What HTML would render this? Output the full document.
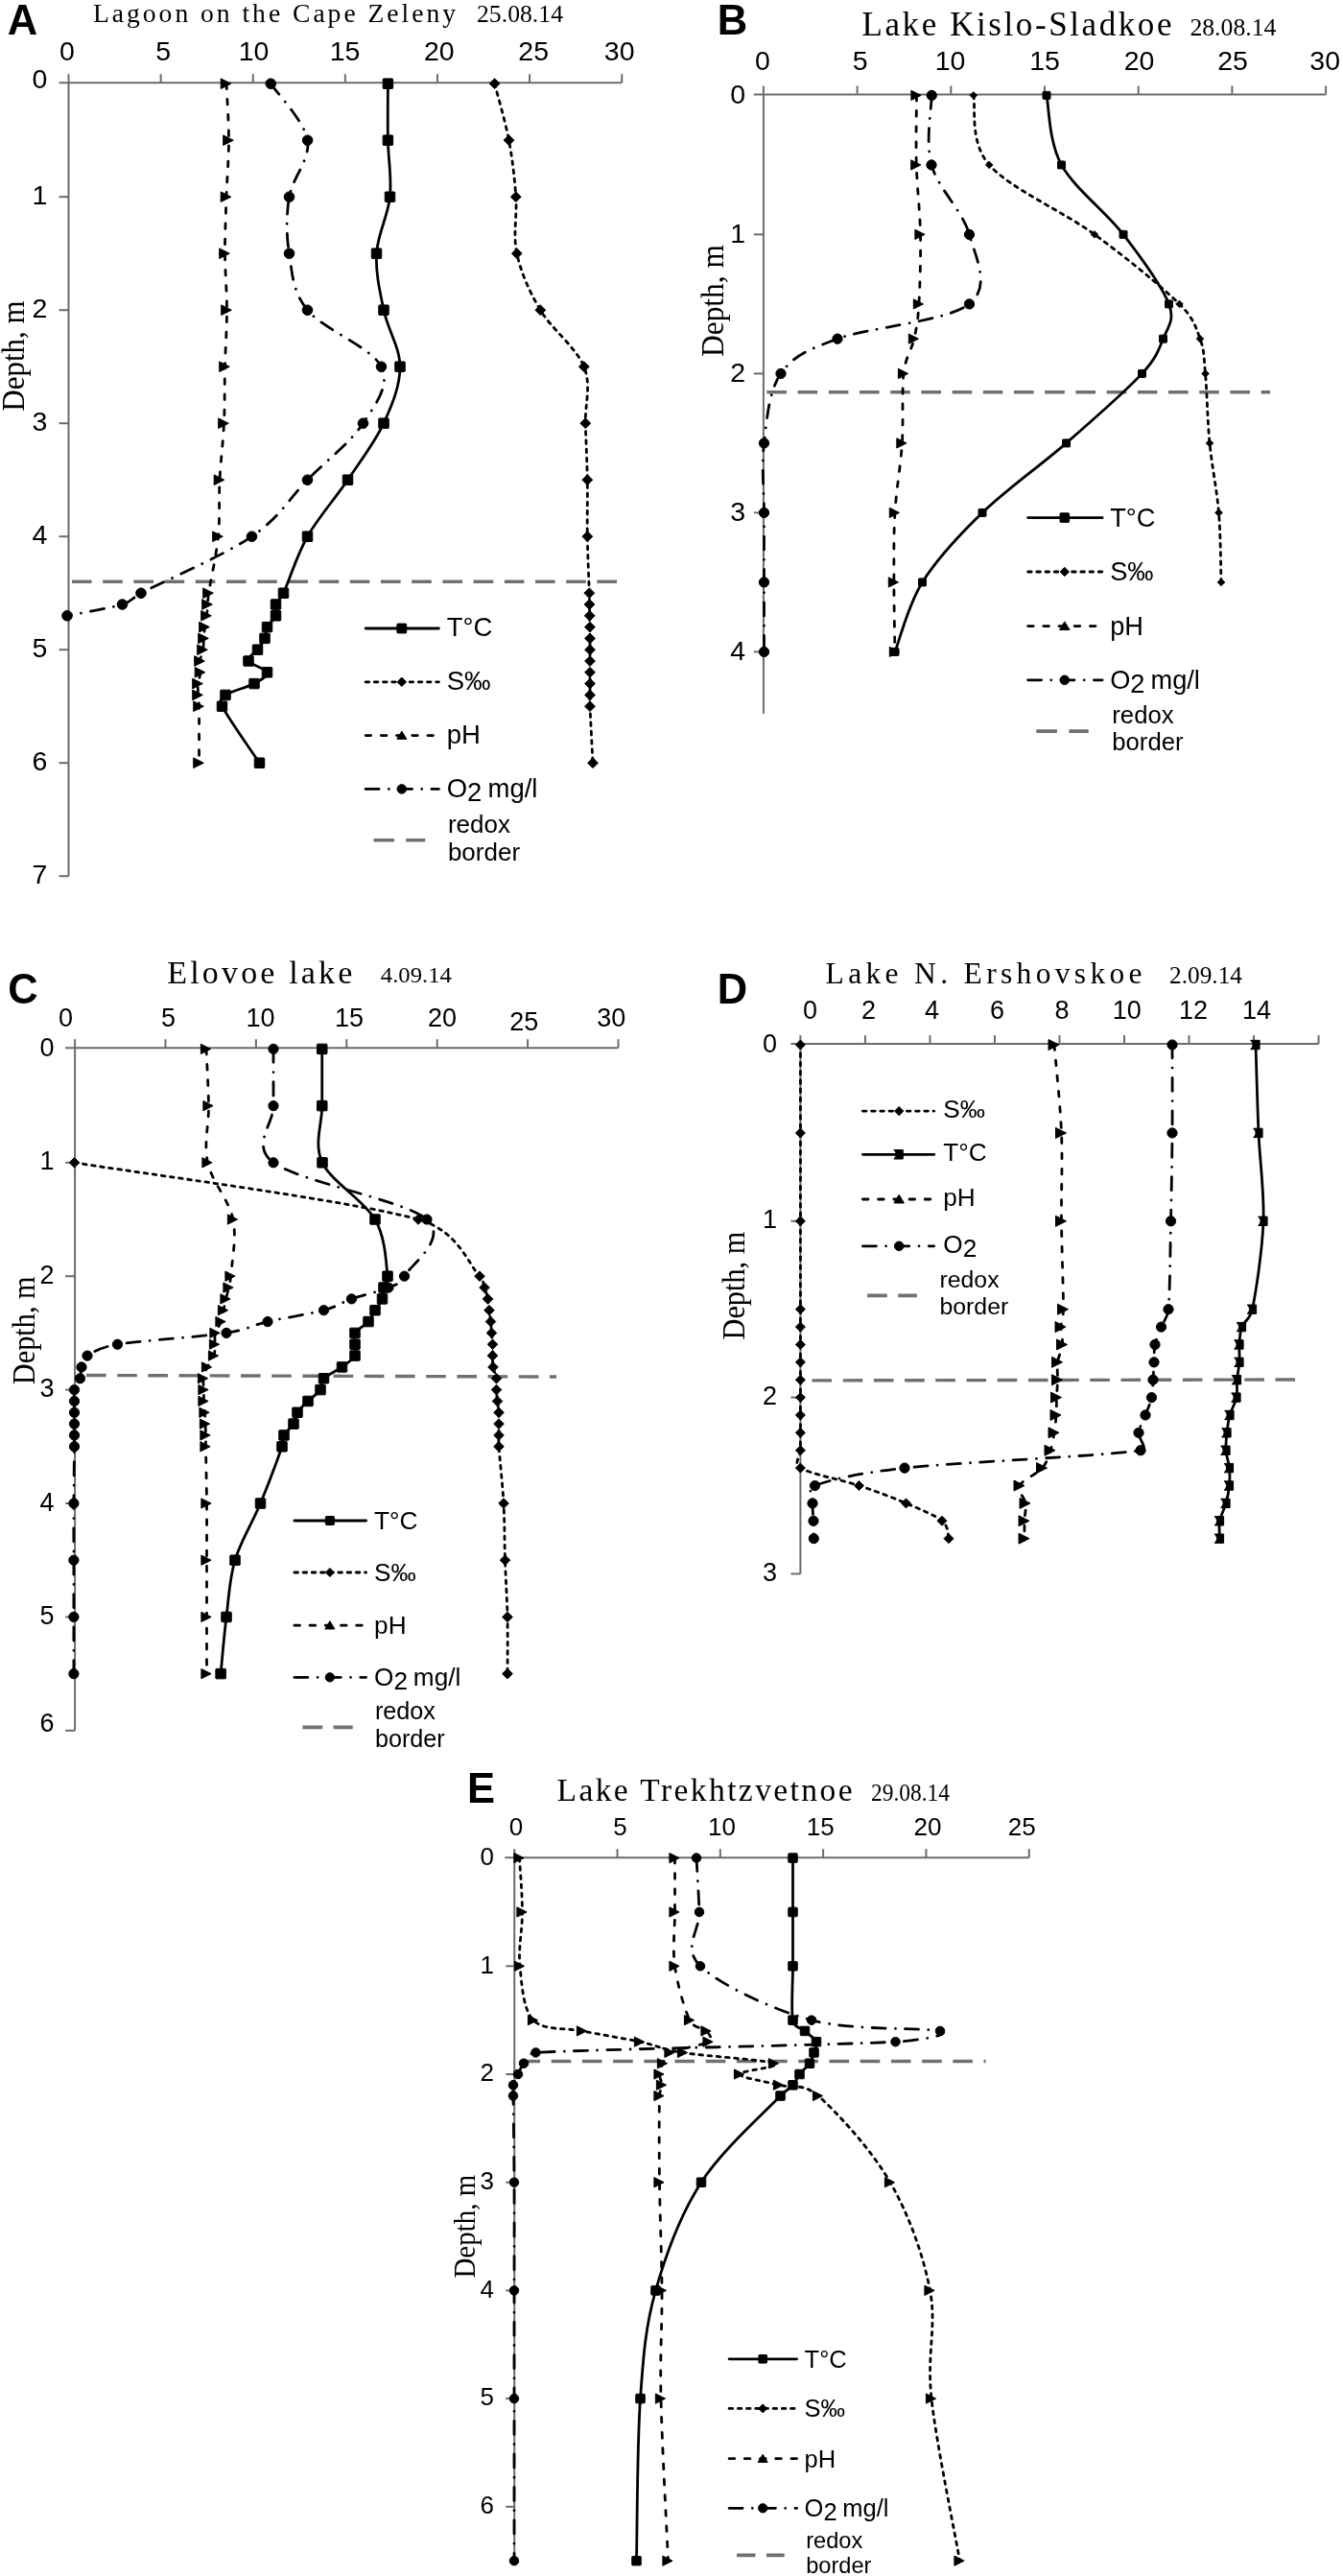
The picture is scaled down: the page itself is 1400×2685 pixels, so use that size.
<!DOCTYPE html>
<html><head><meta charset="utf-8"><style>
html,body{margin:0;padding:0;background:#fff;}
svg{display:block;filter:grayscale(1);}
</style></head><body>
<svg width="1400" height="2685" viewBox="0 0 1400 2685">
<rect width="1400" height="2685" fill="#fff"/>
<g stroke="#6b6b6b" stroke-width="2" fill="none">
<path d="M61.5,86.2H648.25"/>
<path d="M71.5,86.2V913.2"/>
<path d="M71.5,77.2V86.2"/>
<path d="M167.62,77.2V86.2"/>
<path d="M263.75,77.2V86.2"/>
<path d="M359.88,77.2V86.2"/>
<path d="M456,77.2V86.2"/>
<path d="M552.12,77.2V86.2"/>
<path d="M648.25,77.2V86.2"/>
<path d="M61.5,205.2H71.5"/>
<path d="M61.5,323.2H71.5"/>
<path d="M61.5,441.2H71.5"/>
<path d="M61.5,559.2H71.5"/>
<path d="M61.5,677.2H71.5"/>
<path d="M61.5,795.2H71.5"/>
<path d="M61.5,913.2H71.5"/>
</g>
<g font-family="Liberation Sans, sans-serif" font-size="28.5" fill="#000" text-anchor="middle">
<text x="70" y="63.4">0</text>
<text x="170.2" y="63.4">5</text>
<text x="264.5" y="63.4">10</text>
<text x="359.5" y="63.4">15</text>
<text x="457.8" y="63.4">20</text>
<text x="556.2" y="63.4">25</text>
<text x="645.7" y="63.4">30</text>
</g>
<g font-family="Liberation Sans, sans-serif" font-size="28.5" fill="#000" text-anchor="end">
<text x="49.3" y="92.32">0</text>
<text x="49.3" y="213.32">1</text>
<text x="49.3" y="331.32">2</text>
<text x="49.3" y="449.32">3</text>
<text x="49.3" y="567.32">4</text>
<text x="49.3" y="685.32">5</text>
<text x="49.3" y="803.32">6</text>
<text x="49.3" y="921.32">7</text>
</g>
<path d="M75,606.25L643,606.25" stroke="#707070" stroke-width="3.4" stroke-dasharray="20.6 11.6" fill="none"/>
<path d="M515.6,87.2 C518.08,97.03 526.8,126.53 530.5,146.2 C534.2,165.87 536.42,185.53 537.8,205.2 C539.18,224.87 534.55,244.53 538.8,264.2 C543.05,283.87 551.63,303.53 563.3,323.2 C574.97,342.87 600.97,362.53 608.8,382.2 C616.63,401.87 609.72,421.53 610.3,441.2 C610.88,460.87 611.97,480.53 612.3,500.2 C612.63,519.87 611.97,539.53 612.3,559.2 C612.63,578.87 613.93,606.4 614.3,618.2 C614.48,624.1 614.43,626.07 614.5,630 C614.57,633.93 614.63,637.87 614.7,641.8 C614.77,645.73 614.85,649.67 614.9,653.6 C614.95,657.53 614.98,661.47 615,665.4 C615.02,669.33 615,673.27 615,677.2 C615,681.13 615,685.07 615,689 C615,692.93 615,696.87 615,700.8 C615,704.73 615,708.67 615,712.6 C615,716.53 615,720.47 615,724.4 C615,728.33 614.75,730.31 615,736.2 C615.5,748 617.5,785.37 618,795.2" fill="none" stroke="#000" stroke-width="2.8" stroke-linecap="round" stroke-linejoin="round" stroke-dasharray="3.6 5.6"/>
<g fill="#000" stroke="#000" stroke-width="1.0" stroke-linejoin="round"><path d="M515.6,81.8L521,87.2L515.6,92.6L510.2,87.2Z"/><path d="M530.5,140.8L535.9,146.2L530.5,151.6L525.1,146.2Z"/><path d="M537.8,199.8L543.2,205.2L537.8,210.6L532.4,205.2Z"/><path d="M538.8,258.8L544.2,264.2L538.8,269.6L533.4,264.2Z"/><path d="M563.3,317.8L568.7,323.2L563.3,328.6L557.9,323.2Z"/><path d="M608.8,376.8L614.2,382.2L608.8,387.6L603.4,382.2Z"/><path d="M610.3,435.8L615.7,441.2L610.3,446.6L604.9,441.2Z"/><path d="M612.3,494.8L617.7,500.2L612.3,505.6L606.9,500.2Z"/><path d="M612.3,553.8L617.7,559.2L612.3,564.6L606.9,559.2Z"/><path d="M614.3,612.8L619.7,618.2L614.3,623.6L608.9,618.2Z"/><path d="M614.5,624.6L619.9,630L614.5,635.4L609.1,630Z"/><path d="M614.7,636.4L620.1,641.8L614.7,647.2L609.3,641.8Z"/><path d="M614.9,648.2L620.3,653.6L614.9,659L609.5,653.6Z"/><path d="M615,660L620.4,665.4L615,670.8L609.6,665.4Z"/><path d="M615,671.8L620.4,677.2L615,682.6L609.6,677.2Z"/><path d="M615,683.6L620.4,689L615,694.4L609.6,689Z"/><path d="M615,695.4L620.4,700.8L615,706.2L609.6,700.8Z"/><path d="M615,707.2L620.4,712.6L615,718L609.6,712.6Z"/><path d="M615,719L620.4,724.4L615,729.8L609.6,724.4Z"/><path d="M615,730.8L620.4,736.2L615,741.6L609.6,736.2Z"/><path d="M618,789.8L623.4,795.2L618,800.6L612.6,795.2Z"/></g>
<path d="M236,87.2 C236.42,97.03 238.5,126.53 238.5,146.2 C238.5,165.87 236.67,185.53 236,205.2 C235.33,224.87 234.42,244.53 234.5,264.2 C234.58,283.87 236.5,303.53 236.5,323.2 C236.5,342.87 235,362.53 234.5,382.2 C234,401.87 234.42,421.53 233.5,441.2 C232.58,460.87 230,480.53 229,500.2 C228,519.87 229.42,539.53 227.5,559.2 C225.58,578.87 219.33,606.4 217.5,618.2 C216.59,624.05 216.83,626.07 216.5,630 C216.17,633.93 216,637.87 215.5,641.8 C215,645.73 214,649.67 213.5,653.6 C213,657.53 212.83,661.47 212.5,665.4 C212.17,669.33 212.17,673.27 211.5,677.2 C210.83,681.13 208.92,685.07 208.5,689 C208.08,692.93 209.33,696.87 209,700.8 C208.67,704.73 206.92,708.67 206.5,712.6 C206.08,716.53 206.33,720.47 206.5,724.4 C206.67,728.33 207.42,730.28 207.5,736.2 C207.67,748 207.5,785.37 207.5,795.2" fill="none" stroke="#000" stroke-width="2.8" stroke-linecap="round" stroke-linejoin="round" stroke-dasharray="5.6 10.6"/>
<g fill="#000" stroke="#000" stroke-width="1.0" stroke-linejoin="round"><path d="M230.2,81.9L240.8,87.2L230.2,92.5Z"/><path d="M232.7,140.9L243.3,146.2L232.7,151.5Z"/><path d="M230.2,199.9L240.8,205.2L230.2,210.5Z"/><path d="M228.7,258.9L239.3,264.2L228.7,269.5Z"/><path d="M230.7,317.9L241.3,323.2L230.7,328.5Z"/><path d="M228.7,376.9L239.3,382.2L228.7,387.5Z"/><path d="M227.7,435.9L238.3,441.2L227.7,446.5Z"/><path d="M223.2,494.9L233.8,500.2L223.2,505.5Z"/><path d="M221.7,553.9L232.3,559.2L221.7,564.5Z"/><path d="M211.7,612.9L222.3,618.2L211.7,623.5Z"/><path d="M210.7,624.7L221.3,630L210.7,635.3Z"/><path d="M209.7,636.5L220.3,641.8L209.7,647.1Z"/><path d="M207.7,648.3L218.3,653.6L207.7,658.9Z"/><path d="M206.7,660.1L217.3,665.4L206.7,670.7Z"/><path d="M205.7,671.9L216.3,677.2L205.7,682.5Z"/><path d="M202.7,683.7L213.3,689L202.7,694.3Z"/><path d="M203.2,695.5L213.8,700.8L203.2,706.1Z"/><path d="M200.7,707.3L211.3,712.6L200.7,717.9Z"/><path d="M200.7,719.1L211.3,724.4L200.7,729.7Z"/><path d="M201.7,730.9L212.3,736.2L201.7,741.5Z"/><path d="M201.7,789.9L212.3,795.2L201.7,800.5Z"/></g>
<path d="M282.25,87.2 C288.64,97.03 317.39,126.53 320.6,146.2 C323.81,165.87 304.68,185.53 301.5,205.2 C298.32,224.87 298.33,244.53 301.5,264.2 C304.67,283.87 304.5,303.53 320.5,323.2 C336.5,342.87 387.83,362.53 397.5,382.2 C407.17,401.87 391.33,421.53 378.5,441.2 C365.67,460.87 339.83,480.53 320.5,500.2 C301.17,519.87 291.42,539.53 262.5,559.2 C233.58,578.87 169.5,606.4 147,618.2 C136.91,623.49 138.4,626.66 127.5,630 C114.67,633.93 79.58,639.83 70,641.8" fill="none" stroke="#000" stroke-width="2.8" stroke-linecap="round" stroke-linejoin="round" stroke-dasharray="14 10.2 0.01 10.2"/>
<g fill="#000" stroke="#000" stroke-width="1.0" stroke-linejoin="round"><circle cx="282.25" cy="87.2" r="5.3"/><circle cx="320.6" cy="146.2" r="5.3"/><circle cx="301.5" cy="205.2" r="5.3"/><circle cx="301.5" cy="264.2" r="5.3"/><circle cx="320.5" cy="323.2" r="5.3"/><circle cx="397.5" cy="382.2" r="5.3"/><circle cx="378.5" cy="441.2" r="5.3"/><circle cx="320.5" cy="500.2" r="5.3"/><circle cx="262.5" cy="559.2" r="5.3"/><circle cx="147" cy="618.2" r="5.3"/><circle cx="127.5" cy="630" r="5.3"/><circle cx="70" cy="641.8" r="5.3"/></g>
<path d="M404.4,87.2 C404.4,97.03 404.05,126.53 404.4,146.2 C404.75,165.87 408.48,185.53 406.5,205.2 C404.52,224.87 393.58,244.53 392.5,264.2 C391.42,283.87 395.92,303.53 400,323.2 C404.08,342.87 417,362.53 417,382.2 C417,401.87 409.08,421.53 400,441.2 C390.92,460.87 375.75,480.53 362.5,500.2 C349.25,519.87 331.67,539.53 320.5,559.2 C309.33,578.87 301,606.4 295.5,618.2 C292.49,624.66 288.83,626.07 287.5,630 C286.17,633.93 289,637.87 287.5,641.8 C286,645.73 280.42,649.67 278.5,653.6 C276.58,657.53 277.67,661.47 276,665.4 C274.33,669.33 271.33,673.27 268.5,677.2 C265.67,681.13 257.33,685.07 259,689 C260.67,692.93 277.5,696.87 278.5,700.8 C279.5,704.73 272.25,708.67 265,712.6 C257.75,716.53 240.58,720.47 235,724.4 C229.97,727.94 228.74,730.7 231.5,736.2 C237.42,748 264,785.37 270.5,795.2" fill="none" stroke="#000" stroke-width="2.8" stroke-linecap="round" stroke-linejoin="round"/>
<g fill="#000" stroke="#000" stroke-width="1.0" stroke-linejoin="round"><rect x="399.15" y="81.95" width="10.5" height="10.5" rx="0.8"/><rect x="399.15" y="140.95" width="10.5" height="10.5" rx="0.8"/><rect x="401.25" y="199.95" width="10.5" height="10.5" rx="0.8"/><rect x="387.25" y="258.95" width="10.5" height="10.5" rx="0.8"/><rect x="394.75" y="317.95" width="10.5" height="10.5" rx="0.8"/><rect x="411.75" y="376.95" width="10.5" height="10.5" rx="0.8"/><rect x="394.75" y="435.95" width="10.5" height="10.5" rx="0.8"/><rect x="357.25" y="494.95" width="10.5" height="10.5" rx="0.8"/><rect x="315.25" y="553.95" width="10.5" height="10.5" rx="0.8"/><rect x="290.25" y="612.95" width="10.5" height="10.5" rx="0.8"/><rect x="282.25" y="624.75" width="10.5" height="10.5" rx="0.8"/><rect x="282.25" y="636.55" width="10.5" height="10.5" rx="0.8"/><rect x="273.25" y="648.35" width="10.5" height="10.5" rx="0.8"/><rect x="270.75" y="660.15" width="10.5" height="10.5" rx="0.8"/><rect x="263.25" y="671.95" width="10.5" height="10.5" rx="0.8"/><rect x="253.75" y="683.75" width="10.5" height="10.5" rx="0.8"/><rect x="273.25" y="695.55" width="10.5" height="10.5" rx="0.8"/><rect x="259.75" y="707.35" width="10.5" height="10.5" rx="0.8"/><rect x="229.75" y="719.15" width="10.5" height="10.5" rx="0.8"/><rect x="226.25" y="730.95" width="10.5" height="10.5" rx="0.8"/><rect x="265.25" y="789.95" width="10.5" height="10.5" rx="0.8"/></g>
<g stroke="#6b6b6b" stroke-width="2" fill="none">
<path d="M785.9,98.5H1382.1"/>
<path d="M795.9,98.5V744"/>
<path d="M795.9,89.5V98.5"/>
<path d="M893.6,89.5V98.5"/>
<path d="M991.3,89.5V98.5"/>
<path d="M1089,89.5V98.5"/>
<path d="M1186.7,89.5V98.5"/>
<path d="M1284.4,89.5V98.5"/>
<path d="M1382.1,89.5V98.5"/>
<path d="M785.9,244.4H795.9"/>
<path d="M785.9,389.4H795.9"/>
<path d="M785.9,534.4H795.9"/>
<path d="M785.9,679.4H795.9"/>
</g>
<g font-family="Liberation Sans, sans-serif" font-size="28.5" fill="#000" text-anchor="middle">
<text x="795" y="72.6">0</text>
<text x="896.6" y="72.6">5</text>
<text x="990.5" y="72.6">10</text>
<text x="1089" y="72.6">15</text>
<text x="1187.5" y="72.6">20</text>
<text x="1285" y="72.6">25</text>
<text x="1381.2" y="72.6">30</text>
</g>
<g font-family="Liberation Sans, sans-serif" font-size="28.5" fill="#000" text-anchor="end">
<text x="777" y="107.52">0</text>
<text x="777" y="252.52">1</text>
<text x="777" y="397.52">2</text>
<text x="777" y="542.52">3</text>
<text x="777" y="687.52">4</text>
</g>
<path d="M799.4,408.75L1324,408.75" stroke="#707070" stroke-width="3.4" stroke-dasharray="20.6 11.6" fill="none"/>
<path d="M1014.8,99.4 C1017.54,111.48 1010.22,147.73 1031.25,171.9 C1052.28,196.07 1107.96,220.23 1141,244.4 C1174.04,268.57 1211.17,298.77 1229.5,316.9 C1244.49,331.72 1246.5,341.07 1251,353.15 C1255.5,365.23 1254.83,371.27 1256.5,389.4 C1258.17,407.52 1258.67,437.73 1261,461.9 C1263.33,486.07 1268.5,510.23 1270.5,534.4 C1272.5,558.57 1272.58,594.82 1273,606.9" fill="none" stroke="#000" stroke-width="2.8" stroke-linecap="round" stroke-linejoin="round" stroke-dasharray="3.6 5.6"/>
<g fill="#000" stroke="#000" stroke-width="1.0" stroke-linejoin="round"><path d="M1014.8,95.65L1018.55,99.4L1014.8,103.15L1011.05,99.4Z"/><path d="M1031.25,168.15L1035,171.9L1031.25,175.65L1027.5,171.9Z"/><path d="M1141,240.65L1144.75,244.4L1141,248.15L1137.25,244.4Z"/><path d="M1229.5,313.15L1233.25,316.9L1229.5,320.65L1225.75,316.9Z"/><path d="M1251,349.4L1254.75,353.15L1251,356.9L1247.25,353.15Z"/><path d="M1256.5,385.65L1260.25,389.4L1256.5,393.15L1252.75,389.4Z"/><path d="M1261,458.15L1264.75,461.9L1261,465.65L1257.25,461.9Z"/><path d="M1270.5,530.65L1274.25,534.4L1270.5,538.15L1266.75,534.4Z"/><path d="M1273,603.15L1276.75,606.9L1273,610.65L1269.25,606.9Z"/></g>
<path d="M955.5,99.4 C955.47,111.48 954.63,147.73 955.3,171.9 C955.97,196.07 959.07,220.23 959.5,244.4 C959.93,268.57 959,298.77 957.9,316.9 C956.8,335.02 955.55,341.07 952.9,353.15 C950.25,365.23 944.08,371.27 942,389.4 C939.92,407.52 941.92,437.73 940.4,461.9 C938.88,486.07 934.32,510.23 932.9,534.4 C931.48,558.57 931.9,582.73 931.9,606.9 C931.9,631.07 932.73,667.32 932.9,679.4" fill="none" stroke="#000" stroke-width="2.8" stroke-linecap="round" stroke-linejoin="round" stroke-dasharray="5.6 10.6"/>
<g fill="#000" stroke="#000" stroke-width="1.0" stroke-linejoin="round"><path d="M949.9,94.3L960.1,99.4L949.9,104.5Z"/><path d="M949.7,166.8L959.9,171.9L949.7,177Z"/><path d="M953.9,239.3L964.1,244.4L953.9,249.5Z"/><path d="M952.3,311.8L962.5,316.9L952.3,322Z"/><path d="M947.3,348.05L957.5,353.15L947.3,358.25Z"/><path d="M936.4,384.3L946.6,389.4L936.4,394.5Z"/><path d="M934.8,456.8L945,461.9L934.8,467Z"/><path d="M927.3,529.3L937.5,534.4L927.3,539.5Z"/><path d="M926.3,601.8L936.5,606.9L926.3,612Z"/><path d="M927.3,674.3L937.5,679.4L927.3,684.5Z"/></g>
<path d="M971.25,99.4 C971.21,111.48 964.46,147.73 971,171.9 C977.54,196.07 1003.92,220.23 1010.5,244.4 C1017.08,268.57 1033.42,298.77 1010.5,316.9 C987.58,335.02 905.75,341.07 873,353.15 C840.52,365.13 826.75,371.27 814,389.4 C801.25,407.52 799.42,437.73 796.5,461.9 C793.58,486.07 796.5,510.23 796.5,534.4 C796.5,558.57 796.5,582.73 796.5,606.9 C796.5,631.07 796.5,667.32 796.5,679.4" fill="none" stroke="#000" stroke-width="2.8" stroke-linecap="round" stroke-linejoin="round" stroke-dasharray="14 10.2 0.01 10.2"/>
<g fill="#000" stroke="#000" stroke-width="1.0" stroke-linejoin="round"><circle cx="971.25" cy="99.4" r="5.15"/><circle cx="971" cy="171.9" r="5.15"/><circle cx="1010.5" cy="244.4" r="5.15"/><circle cx="1010.5" cy="316.9" r="5.15"/><circle cx="873" cy="353.15" r="5.15"/><circle cx="814" cy="389.4" r="5.15"/><circle cx="796.5" cy="461.9" r="5.15"/><circle cx="796.5" cy="534.4" r="5.15"/><circle cx="796.5" cy="606.9" r="5.15"/><circle cx="796.5" cy="679.4" r="5.15"/></g>
<path d="M1091,99.4 C1093.58,111.48 1093.17,147.73 1106.5,171.9 C1119.83,196.07 1152.33,220.23 1171,244.4 C1189.67,268.57 1211.58,298.77 1218.5,316.9 C1225.05,334.06 1217.17,341.07 1212.5,353.15 C1207.83,365.23 1204.93,373.86 1190.5,389.4 C1173.67,407.52 1139.25,437.73 1111.5,461.9 C1083.75,486.07 1049,510.23 1024,534.4 C999,558.57 976.67,582.73 961.5,606.9 C946.33,631.07 937.75,667.32 933,679.4" fill="none" stroke="#000" stroke-width="2.8" stroke-linecap="round" stroke-linejoin="round"/>
<g fill="#000" stroke="#000" stroke-width="1.0" stroke-linejoin="round"><rect x="1087" y="95.4" width="8" height="8" rx="0.8"/><rect x="1102.5" y="167.9" width="8" height="8" rx="0.8"/><rect x="1167" y="240.4" width="8" height="8" rx="0.8"/><rect x="1214.5" y="312.9" width="8" height="8" rx="0.8"/><rect x="1208.5" y="349.15" width="8" height="8" rx="0.8"/><rect x="1186.5" y="385.4" width="8" height="8" rx="0.8"/><rect x="1107.5" y="457.9" width="8" height="8" rx="0.8"/><rect x="1020" y="530.4" width="8" height="8" rx="0.8"/><rect x="957.5" y="602.9" width="8" height="8" rx="0.8"/><rect x="929" y="675.4" width="8" height="8" rx="0.8"/></g>
<g stroke="#6b6b6b" stroke-width="2" fill="none">
<path d="M68.1,1092.2H644.5"/>
<path d="M78.1,1092.2V1803.8"/>
<path d="M78.1,1083.2V1092.2"/>
<path d="M172.5,1083.2V1092.2"/>
<path d="M266.9,1083.2V1092.2"/>
<path d="M361.3,1083.2V1092.2"/>
<path d="M455.7,1083.2V1092.2"/>
<path d="M550.1,1083.2V1092.2"/>
<path d="M644.5,1083.2V1092.2"/>
<path d="M68.1,1211.8H78.1"/>
<path d="M68.1,1330.2H78.1"/>
<path d="M68.1,1448.6H78.1"/>
<path d="M68.1,1567H78.1"/>
<path d="M68.1,1685.4H78.1"/>
<path d="M68.1,1803.8H78.1"/>
</g>
<g font-family="Liberation Sans, sans-serif" font-size="27" fill="#000" text-anchor="middle">
<text x="68.5" y="1070.3">0</text>
<text x="175.6" y="1070.3">5</text>
<text x="271.6" y="1070.3">10</text>
<text x="363.9" y="1070.3">15</text>
<text x="460.9" y="1070.3">20</text>
<text x="546.3" y="1074">25</text>
<text x="637.3" y="1070.3">30</text>
</g>
<g font-family="Liberation Sans, sans-serif" font-size="27" fill="#000" text-anchor="end">
<text x="56.5" y="1100.99">0</text>
<text x="56.5" y="1219.39">1</text>
<text x="56.5" y="1337.79">2</text>
<text x="56.5" y="1456.19">3</text>
<text x="56.5" y="1574.59">4</text>
<text x="56.5" y="1692.99">5</text>
<text x="56.5" y="1805.39">6</text>
</g>
<path d="M90,1433.5L580,1435" stroke="#707070" stroke-width="3.4" stroke-dasharray="20.6 11.6" fill="none"/>
<path d="M77.5,1211.8 C137.25,1221.67 365.58,1251.27 436,1271 C477.97,1282.76 488.5,1318.36 500,1330.2 C504.48,1334.81 503.58,1338.09 505,1342.04 C506.42,1345.99 507.67,1349.93 508.5,1353.88 C509.33,1357.83 509.5,1361.77 510,1365.72 C510.5,1369.67 511.08,1373.61 511.5,1377.56 C511.92,1381.51 512.17,1385.45 512.5,1389.4 C512.83,1393.35 513.33,1397.29 513.5,1401.24 C513.67,1405.19 513.42,1409.13 513.5,1413.08 C513.58,1417.03 513.33,1420.97 514,1424.92 C514.67,1428.87 516.92,1432.81 517.5,1436.76 C518.08,1440.71 517.33,1444.65 517.5,1448.6 C517.67,1452.55 518.08,1456.49 518.5,1460.44 C518.92,1464.39 519.75,1468.33 520,1472.28 C520.25,1476.23 520,1480.17 520,1484.12 C520,1488.07 520,1492.01 520,1495.96 C520,1499.91 519.58,1501.89 520,1507.8 C520.83,1519.64 523.92,1547.27 525,1567 C526.08,1586.73 525.83,1606.47 526.5,1626.2 C527.17,1645.93 528.58,1665.67 529,1685.4 C529.42,1705.13 529,1734.73 529,1744.6" fill="none" stroke="#000" stroke-width="2.8" stroke-linecap="round" stroke-linejoin="round" stroke-dasharray="3.6 5.6"/>
<g fill="#000" stroke="#000" stroke-width="1.0" stroke-linejoin="round"><path d="M77.5,1206.5L82.8,1211.8L77.5,1217.1L72.2,1211.8Z"/><path d="M436,1265.7L441.3,1271L436,1276.3L430.7,1271Z"/><path d="M500,1324.9L505.3,1330.2L500,1335.5L494.7,1330.2Z"/><path d="M505,1336.74L510.3,1342.04L505,1347.34L499.7,1342.04Z"/><path d="M508.5,1348.58L513.8,1353.88L508.5,1359.18L503.2,1353.88Z"/><path d="M510,1360.42L515.3,1365.72L510,1371.02L504.7,1365.72Z"/><path d="M511.5,1372.26L516.8,1377.56L511.5,1382.86L506.2,1377.56Z"/><path d="M512.5,1384.1L517.8,1389.4L512.5,1394.7L507.2,1389.4Z"/><path d="M513.5,1395.94L518.8,1401.24L513.5,1406.54L508.2,1401.24Z"/><path d="M513.5,1407.78L518.8,1413.08L513.5,1418.38L508.2,1413.08Z"/><path d="M514,1419.62L519.3,1424.92L514,1430.22L508.7,1424.92Z"/><path d="M517.5,1431.46L522.8,1436.76L517.5,1442.06L512.2,1436.76Z"/><path d="M517.5,1443.3L522.8,1448.6L517.5,1453.9L512.2,1448.6Z"/><path d="M518.5,1455.14L523.8,1460.44L518.5,1465.74L513.2,1460.44Z"/><path d="M520,1466.98L525.3,1472.28L520,1477.58L514.7,1472.28Z"/><path d="M520,1478.82L525.3,1484.12L520,1489.42L514.7,1484.12Z"/><path d="M520,1490.66L525.3,1495.96L520,1501.26L514.7,1495.96Z"/><path d="M520,1502.5L525.3,1507.8L520,1513.1L514.7,1507.8Z"/><path d="M525,1561.7L530.3,1567L525,1572.3L519.7,1567Z"/><path d="M526.5,1620.9L531.8,1626.2L526.5,1631.5L521.2,1626.2Z"/><path d="M529,1680.1L534.3,1685.4L529,1690.7L523.7,1685.4Z"/><path d="M529,1739.3L534.3,1744.6L529,1749.9L523.7,1744.6Z"/></g>
<path d="M215,1093.4 C215.42,1103.27 217.25,1132.87 217.5,1152.6 C217.75,1172.33 212.25,1192.07 216.5,1211.8 C220.75,1231.53 239,1251.27 243,1271 C247,1290.73 241.25,1318.36 240.5,1330.2 C240.12,1336.19 239.33,1338.09 238.5,1342.04 C237.67,1345.99 236.42,1349.93 235.5,1353.88 C234.58,1357.83 233.83,1361.77 233,1365.72 C232.17,1369.67 231.92,1373.61 230.5,1377.56 C229.08,1381.51 225.58,1385.45 224.5,1389.4 C223.42,1393.35 224.25,1397.29 224,1401.24 C223.75,1405.19 224.33,1409.13 223,1413.08 C221.67,1417.03 217.83,1420.97 216,1424.92 C214.17,1428.87 212.58,1432.81 212,1436.76 C211.42,1440.71 212.42,1444.65 212.5,1448.6 C212.58,1452.55 212.33,1456.49 212.5,1460.44 C212.67,1464.39 213.25,1468.33 213.5,1472.28 C213.75,1476.23 213.83,1480.17 214,1484.12 C214.17,1488.07 214.42,1492.01 214.5,1495.96 C214.58,1499.91 214.42,1501.88 214.5,1507.8 C214.67,1519.64 215.33,1547.27 215.5,1567 C215.67,1586.73 215.5,1606.47 215.5,1626.2 C215.5,1645.93 215.5,1665.67 215.5,1685.4 C215.5,1705.13 215.5,1734.73 215.5,1744.6" fill="none" stroke="#000" stroke-width="2.8" stroke-linecap="round" stroke-linejoin="round" stroke-dasharray="5.6 10.6"/>
<g fill="#000" stroke="#000" stroke-width="1.0" stroke-linejoin="round"><path d="M209.38,1088.28L219.62,1093.4L209.38,1098.53Z"/><path d="M211.88,1147.48L222.12,1152.6L211.88,1157.73Z"/><path d="M210.88,1206.68L221.12,1211.8L210.88,1216.93Z"/><path d="M237.38,1265.88L247.62,1271L237.38,1276.12Z"/><path d="M234.88,1325.08L245.12,1330.2L234.88,1335.33Z"/><path d="M232.88,1336.92L243.12,1342.04L232.88,1347.17Z"/><path d="M229.88,1348.76L240.12,1353.88L229.88,1359.01Z"/><path d="M227.38,1360.6L237.62,1365.72L227.38,1370.85Z"/><path d="M224.88,1372.44L235.12,1377.56L224.88,1382.69Z"/><path d="M218.88,1384.28L229.12,1389.4L218.88,1394.53Z"/><path d="M218.38,1396.12L228.62,1401.24L218.38,1406.37Z"/><path d="M217.38,1407.96L227.62,1413.08L217.38,1418.21Z"/><path d="M210.38,1419.8L220.62,1424.92L210.38,1430.05Z"/><path d="M206.38,1431.64L216.62,1436.76L206.38,1441.89Z"/><path d="M206.88,1443.48L217.12,1448.6L206.88,1453.73Z"/><path d="M206.88,1455.32L217.12,1460.44L206.88,1465.57Z"/><path d="M207.88,1467.16L218.12,1472.28L207.88,1477.41Z"/><path d="M208.38,1479L218.62,1484.12L208.38,1489.25Z"/><path d="M208.88,1490.84L219.12,1495.96L208.88,1501.09Z"/><path d="M208.88,1502.68L219.12,1507.8L208.88,1512.93Z"/><path d="M209.88,1561.88L220.12,1567L209.88,1572.12Z"/><path d="M209.88,1621.08L220.12,1626.2L209.88,1631.33Z"/><path d="M209.88,1680.28L220.12,1685.4L209.88,1690.53Z"/><path d="M209.88,1739.48L220.12,1744.6L209.88,1749.73Z"/></g>
<path d="M285,1093.4 C285,1103.27 285,1132.87 285,1152.6 C285,1172.33 261.21,1194.19 285,1211.8 C311.67,1231.53 422.25,1251.27 445,1271 C467.75,1290.73 428.17,1318.36 421.5,1330.2 C416.52,1339.05 414.17,1338.09 405,1342.04 C395.83,1345.99 377.75,1349.93 366.5,1353.88 C355.25,1357.83 352.08,1361.77 337.5,1365.72 C322.92,1369.67 295.92,1373.61 279,1377.56 C262.08,1381.51 258.05,1386.06 236,1389.4 C209.92,1393.35 146.67,1397.29 122.5,1401.24 C105.89,1403.95 97.25,1409.13 91,1413.08 C85.39,1416.62 86.25,1420.97 85,1424.92 C83.75,1428.87 84.75,1432.81 83.5,1436.76 C82.25,1440.71 78.5,1444.65 77.5,1448.6 C76.5,1452.55 77.5,1456.49 77.5,1460.44 C77.5,1464.39 77.5,1468.33 77.5,1472.28 C77.5,1476.23 77.5,1480.17 77.5,1484.12 C77.5,1488.07 77.5,1492.01 77.5,1495.96 C77.5,1499.91 77.55,1501.88 77.5,1507.8 C77.4,1519.64 77,1547.27 76.9,1567 C76.8,1586.73 76.9,1606.47 76.9,1626.2 C76.9,1645.93 76.9,1665.67 76.9,1685.4 C76.9,1705.13 76.9,1734.73 76.9,1744.6" fill="none" stroke="#000" stroke-width="2.8" stroke-linecap="round" stroke-linejoin="round" stroke-dasharray="14 10.2 0.01 10.2"/>
<g fill="#000" stroke="#000" stroke-width="1.0" stroke-linejoin="round"><circle cx="285" cy="1093.4" r="5.12"/><circle cx="285" cy="1152.6" r="5.12"/><circle cx="285" cy="1211.8" r="5.12"/><circle cx="445" cy="1271" r="5.12"/><circle cx="421.5" cy="1330.2" r="5.12"/><circle cx="405" cy="1342.04" r="5.12"/><circle cx="366.5" cy="1353.88" r="5.12"/><circle cx="337.5" cy="1365.72" r="5.12"/><circle cx="279" cy="1377.56" r="5.12"/><circle cx="236" cy="1389.4" r="5.12"/><circle cx="122.5" cy="1401.24" r="5.12"/><circle cx="91" cy="1413.08" r="5.12"/><circle cx="85" cy="1424.92" r="5.12"/><circle cx="83.5" cy="1436.76" r="5.12"/><circle cx="77.5" cy="1448.6" r="5.12"/><circle cx="77.5" cy="1460.44" r="5.12"/><circle cx="77.5" cy="1472.28" r="5.12"/><circle cx="77.5" cy="1484.12" r="5.12"/><circle cx="77.5" cy="1495.96" r="5.12"/><circle cx="77.5" cy="1507.8" r="5.12"/><circle cx="76.9" cy="1567" r="5.12"/><circle cx="76.9" cy="1626.2" r="5.12"/><circle cx="76.9" cy="1685.4" r="5.12"/><circle cx="76.9" cy="1744.6" r="5.12"/></g>
<path d="M335.75,1093.4 C335.75,1103.27 335.71,1132.87 335.75,1152.6 C335.79,1172.33 326.79,1192.07 336,1211.8 C345.21,1231.53 379.67,1251.27 391,1271 C402.33,1290.73 402.5,1318.36 404,1330.2 C404.79,1336.4 400.92,1338.09 400,1342.04 C399.08,1345.99 400,1349.93 398.5,1353.88 C397,1357.83 393.42,1361.77 391,1365.72 C388.58,1369.67 387.5,1373.61 384,1377.56 C380.5,1381.51 372.33,1385.45 370,1389.4 C367.67,1393.35 370,1397.29 370,1401.24 C370,1405.19 372.25,1409.13 370,1413.08 C367.75,1417.03 361.92,1420.97 356.5,1424.92 C351.08,1428.87 341.25,1432.81 337.5,1436.76 C333.75,1440.71 336.75,1444.65 334,1448.6 C331.25,1452.55 325,1456.49 321,1460.44 C317,1464.39 312.5,1468.33 310,1472.28 C307.5,1476.23 308.33,1480.17 306,1484.12 C303.67,1488.07 298,1492.01 296,1495.96 C294,1499.91 295.96,1502.12 294,1507.8 C289.92,1519.64 279.67,1547.27 271.5,1567 C263.33,1586.73 250.92,1606.47 245,1626.2 C239.08,1645.93 238.48,1665.67 236,1685.4 C233.52,1705.13 231.08,1734.73 230.1,1744.6" fill="none" stroke="#000" stroke-width="2.8" stroke-linecap="round" stroke-linejoin="round"/>
<g fill="#000" stroke="#000" stroke-width="1.0" stroke-linejoin="round"><rect x="330.5" y="1088.15" width="10.5" height="10.5" rx="0.8"/><rect x="330.5" y="1147.35" width="10.5" height="10.5" rx="0.8"/><rect x="330.75" y="1206.55" width="10.5" height="10.5" rx="0.8"/><rect x="385.75" y="1265.75" width="10.5" height="10.5" rx="0.8"/><rect x="398.75" y="1324.95" width="10.5" height="10.5" rx="0.8"/><rect x="394.75" y="1336.79" width="10.5" height="10.5" rx="0.8"/><rect x="393.25" y="1348.63" width="10.5" height="10.5" rx="0.8"/><rect x="385.75" y="1360.47" width="10.5" height="10.5" rx="0.8"/><rect x="378.75" y="1372.31" width="10.5" height="10.5" rx="0.8"/><rect x="364.75" y="1384.15" width="10.5" height="10.5" rx="0.8"/><rect x="364.75" y="1395.99" width="10.5" height="10.5" rx="0.8"/><rect x="364.75" y="1407.83" width="10.5" height="10.5" rx="0.8"/><rect x="351.25" y="1419.67" width="10.5" height="10.5" rx="0.8"/><rect x="332.25" y="1431.51" width="10.5" height="10.5" rx="0.8"/><rect x="328.75" y="1443.35" width="10.5" height="10.5" rx="0.8"/><rect x="315.75" y="1455.19" width="10.5" height="10.5" rx="0.8"/><rect x="304.75" y="1467.03" width="10.5" height="10.5" rx="0.8"/><rect x="300.75" y="1478.87" width="10.5" height="10.5" rx="0.8"/><rect x="290.75" y="1490.71" width="10.5" height="10.5" rx="0.8"/><rect x="288.75" y="1502.55" width="10.5" height="10.5" rx="0.8"/><rect x="266.25" y="1561.75" width="10.5" height="10.5" rx="0.8"/><rect x="239.75" y="1620.95" width="10.5" height="10.5" rx="0.8"/><rect x="230.75" y="1680.15" width="10.5" height="10.5" rx="0.8"/><rect x="224.85" y="1739.35" width="10.5" height="10.5" rx="0.8"/></g>
<g stroke="#6b6b6b" stroke-width="2" fill="none">
<path d="M824.4,1088.1H1374.56"/>
<path d="M834.4,1088.1V1640.4"/>
<path d="M834.4,1079.1V1088.1"/>
<path d="M901.92,1079.1V1088.1"/>
<path d="M969.44,1079.1V1088.1"/>
<path d="M1036.96,1079.1V1088.1"/>
<path d="M1104.48,1079.1V1088.1"/>
<path d="M1172,1079.1V1088.1"/>
<path d="M1239.52,1079.1V1088.1"/>
<path d="M1307.04,1079.1V1088.1"/>
<path d="M1374.56,1079.1V1088.1"/>
<path d="M824.4,1272.8H834.4"/>
<path d="M824.4,1456.6H834.4"/>
<path d="M824.4,1640.4H834.4"/>
</g>
<g font-family="Liberation Sans, sans-serif" font-size="27" fill="#000" text-anchor="middle">
<text x="844.6" y="1062">0</text>
<text x="905.6" y="1062">2</text>
<text x="971.6" y="1062">4</text>
<text x="1039.5" y="1062">6</text>
<text x="1106.9" y="1062">8</text>
<text x="1174.7" y="1062">10</text>
<text x="1244" y="1062">12</text>
<text x="1310" y="1062">14</text>
</g>
<g font-family="Liberation Sans, sans-serif" font-size="27" fill="#000" text-anchor="end">
<text x="810" y="1096.59">0</text>
<text x="810" y="1280.38">1</text>
<text x="810" y="1464.18">2</text>
<text x="810" y="1647.99">3</text>
</g>
<path d="M846.5,1438.9L1350.5,1438" stroke="#707070" stroke-width="3.4" stroke-dasharray="20.6 11.6" fill="none"/>
<path d="M834.4,1089 C834.4,1104.32 834.4,1150.27 834.4,1180.9 C834.4,1211.53 834.4,1242.17 834.4,1272.8 C834.4,1303.43 834.4,1346.32 834.4,1364.7 C834.4,1373.89 834.4,1376.95 834.4,1383.08 C834.4,1389.21 834.4,1395.33 834.4,1401.46 C834.4,1407.59 834.4,1413.71 834.4,1419.84 C834.4,1425.97 834.4,1432.09 834.4,1438.22 C834.4,1444.35 834.4,1450.47 834.4,1456.6 C834.4,1462.73 834.4,1468.85 834.4,1474.98 C834.4,1481.11 834.4,1487.23 834.4,1493.36 C834.4,1499.49 834.4,1505.61 834.4,1511.74 C834.4,1517.87 826.53,1525.38 834.4,1530.12 C844.58,1536.25 877.15,1542.37 895.5,1548.5 C913.85,1554.63 930.08,1560.75 944.5,1566.88 C958.92,1573.01 974.58,1579.13 982,1585.26 C989.42,1591.39 987.83,1600.58 989,1603.64" fill="none" stroke="#000" stroke-width="2.8" stroke-linecap="round" stroke-linejoin="round" stroke-dasharray="3.6 5.6"/>
<g fill="#000" stroke="#000" stroke-width="1.0" stroke-linejoin="round"><path d="M834.4,1084L839.4,1089L834.4,1094L829.4,1089Z"/><path d="M834.4,1175.9L839.4,1180.9L834.4,1185.9L829.4,1180.9Z"/><path d="M834.4,1267.8L839.4,1272.8L834.4,1277.8L829.4,1272.8Z"/><path d="M834.4,1359.7L839.4,1364.7L834.4,1369.7L829.4,1364.7Z"/><path d="M834.4,1378.08L839.4,1383.08L834.4,1388.08L829.4,1383.08Z"/><path d="M834.4,1396.46L839.4,1401.46L834.4,1406.46L829.4,1401.46Z"/><path d="M834.4,1414.84L839.4,1419.84L834.4,1424.84L829.4,1419.84Z"/><path d="M834.4,1433.22L839.4,1438.22L834.4,1443.22L829.4,1438.22Z"/><path d="M834.4,1451.6L839.4,1456.6L834.4,1461.6L829.4,1456.6Z"/><path d="M834.4,1469.98L839.4,1474.98L834.4,1479.98L829.4,1474.98Z"/><path d="M834.4,1488.36L839.4,1493.36L834.4,1498.36L829.4,1493.36Z"/><path d="M834.4,1506.74L839.4,1511.74L834.4,1516.74L829.4,1511.74Z"/><path d="M834.4,1525.12L839.4,1530.12L834.4,1535.12L829.4,1530.12Z"/><path d="M895.5,1543.5L900.5,1548.5L895.5,1553.5L890.5,1548.5Z"/><path d="M944.5,1561.88L949.5,1566.88L944.5,1571.88L939.5,1566.88Z"/><path d="M982,1580.26L987,1585.26L982,1590.26L977,1585.26Z"/><path d="M989,1598.64L994,1603.64L989,1608.64L984,1603.64Z"/></g>
<path d="M1099,1089 C1100.25,1104.32 1105.25,1150.27 1106.5,1180.9 C1107.75,1211.53 1106.17,1242.17 1106.5,1272.8 C1106.83,1303.43 1108.58,1346.32 1108.5,1364.7 C1108.46,1373.97 1106.17,1376.95 1106,1383.08 C1105.83,1389.21 1108.08,1395.33 1107.5,1401.46 C1106.92,1407.59 1103.33,1413.71 1102.5,1419.84 C1101.67,1425.97 1102.67,1432.09 1102.5,1438.22 C1102.33,1444.35 1101.75,1450.47 1101.5,1456.6 C1101.25,1462.73 1101.42,1468.85 1101,1474.98 C1100.58,1481.11 1100,1487.23 1099,1493.36 C1098,1499.49 1097.08,1505.61 1095,1511.74 C1092.92,1517.87 1091.83,1523.99 1086.5,1530.12 C1081.17,1536.25 1065.92,1542.37 1063,1548.5 C1060.08,1554.63 1068.17,1560.75 1069,1566.88 C1069.83,1573.01 1068.17,1579.13 1068,1585.26 C1067.83,1591.39 1068,1600.58 1068,1603.64" fill="none" stroke="#000" stroke-width="2.8" stroke-linecap="round" stroke-linejoin="round" stroke-dasharray="5.6 10.6"/>
<g fill="#000" stroke="#000" stroke-width="1.0" stroke-linejoin="round"><path d="M1093,1083.5L1104,1089L1093,1094.5Z"/><path d="M1100.5,1175.4L1111.5,1180.9L1100.5,1186.4Z"/><path d="M1100.5,1267.3L1111.5,1272.8L1100.5,1278.3Z"/><path d="M1102.5,1359.2L1113.5,1364.7L1102.5,1370.2Z"/><path d="M1100,1377.58L1111,1383.08L1100,1388.58Z"/><path d="M1101.5,1395.96L1112.5,1401.46L1101.5,1406.96Z"/><path d="M1096.5,1414.34L1107.5,1419.84L1096.5,1425.34Z"/><path d="M1096.5,1432.72L1107.5,1438.22L1096.5,1443.72Z"/><path d="M1095.5,1451.1L1106.5,1456.6L1095.5,1462.1Z"/><path d="M1095,1469.48L1106,1474.98L1095,1480.48Z"/><path d="M1093,1487.86L1104,1493.36L1093,1498.86Z"/><path d="M1089,1506.24L1100,1511.74L1089,1517.24Z"/><path d="M1080.5,1524.62L1091.5,1530.12L1080.5,1535.62Z"/><path d="M1057,1543L1068,1548.5L1057,1554Z"/><path d="M1063,1561.38L1074,1566.88L1063,1572.38Z"/><path d="M1062,1579.76L1073,1585.26L1062,1590.76Z"/><path d="M1062,1598.14L1073,1603.64L1062,1609.14Z"/></g>
<path d="M1222,1089 C1222,1104.32 1222.25,1150.27 1222,1180.9 C1221.75,1211.53 1221.17,1242.17 1220.5,1272.8 C1219.83,1303.43 1219.67,1346.32 1218,1364.7 C1217.1,1374.59 1212.83,1376.95 1210.5,1383.08 C1208.17,1389.21 1205.25,1395.33 1204,1401.46 C1202.75,1407.59 1203.33,1413.71 1203,1419.84 C1202.67,1425.97 1202.42,1432.09 1202,1438.22 C1201.58,1444.35 1201.83,1450.47 1200.5,1456.6 C1199.17,1462.73 1196.25,1468.85 1194,1474.98 C1191.75,1481.11 1187.83,1487.23 1187,1493.36 C1186.17,1499.49 1198.14,1510.36 1189,1511.74 C1148.33,1517.87 999.58,1523.99 943,1530.12 C895.63,1535.25 865.5,1542.37 849.5,1548.5 C840.84,1551.82 847.25,1560.75 847,1566.88 C846.75,1573.01 847.78,1579.13 848,1585.26 C848.22,1591.39 848.25,1600.58 848.3,1603.64" fill="none" stroke="#000" stroke-width="2.8" stroke-linecap="round" stroke-linejoin="round" stroke-dasharray="14 10.2 0.01 10.2"/>
<g fill="#000" stroke="#000" stroke-width="1.0" stroke-linejoin="round"><circle cx="1222" cy="1089" r="5.12"/><circle cx="1222" cy="1180.9" r="5.12"/><circle cx="1220.5" cy="1272.8" r="5.12"/><circle cx="1218" cy="1364.7" r="5.12"/><circle cx="1210.5" cy="1383.08" r="5.12"/><circle cx="1204" cy="1401.46" r="5.12"/><circle cx="1203" cy="1419.84" r="5.12"/><circle cx="1202" cy="1438.22" r="5.12"/><circle cx="1200.5" cy="1456.6" r="5.12"/><circle cx="1194" cy="1474.98" r="5.12"/><circle cx="1187" cy="1493.36" r="5.12"/><circle cx="1189" cy="1511.74" r="5.12"/><circle cx="943" cy="1530.12" r="5.12"/><circle cx="849.5" cy="1548.5" r="5.12"/><circle cx="847" cy="1566.88" r="5.12"/><circle cx="848" cy="1585.26" r="5.12"/><circle cx="848.3" cy="1603.64" r="5.12"/></g>
<path d="M1309,1089 C1309.5,1104.32 1310.67,1150.27 1312,1180.9 C1313.33,1211.53 1318.08,1242.17 1317,1272.8 C1315.92,1303.43 1309.25,1346.32 1305.5,1364.7 C1303.36,1375.19 1296.75,1376.95 1294.5,1383.08 C1292.25,1389.21 1292.42,1395.33 1292,1401.46 C1291.58,1407.59 1292.42,1413.71 1292,1419.84 C1291.58,1425.97 1290,1432.09 1289.5,1438.22 C1289,1444.35 1290.25,1450.47 1289,1456.6 C1287.75,1462.73 1283.67,1468.85 1282,1474.98 C1280.33,1481.11 1279.67,1487.23 1279,1493.36 C1278.33,1499.49 1277.58,1505.61 1278,1511.74 C1278.42,1517.87 1280.92,1523.99 1281.5,1530.12 C1282.08,1536.25 1282.08,1542.37 1281.5,1548.5 C1280.92,1554.63 1279.67,1560.75 1278,1566.88 C1276.33,1573.01 1272.58,1579.13 1271.5,1585.26 C1270.42,1591.39 1271.5,1600.58 1271.5,1603.64" fill="none" stroke="#000" stroke-width="2.8" stroke-linecap="round" stroke-linejoin="round"/>
<g fill="#000" stroke="#000" stroke-width="1.0" stroke-linejoin="round"><path d="M1303.7,1084.3L1313.1,1084.3L1313.1,1093.7L1303.7,1093.7Q1308.53,1089 1303.7,1084.3Z"/><path d="M1306.7,1176.2L1316.1,1176.2L1316.1,1185.6L1306.7,1185.6Q1311.53,1180.9 1306.7,1176.2Z"/><path d="M1311.7,1268.1L1321.1,1268.1L1321.1,1277.5L1311.7,1277.5Q1316.53,1272.8 1311.7,1268.1Z"/><path d="M1300.2,1360L1309.6,1360L1309.6,1369.4L1300.2,1369.4Q1305.03,1364.7 1300.2,1360Z"/><path d="M1289.2,1378.38L1298.6,1378.38L1298.6,1387.78L1289.2,1387.78Q1294.03,1383.08 1289.2,1378.38Z"/><path d="M1286.7,1396.76L1296.1,1396.76L1296.1,1406.16L1286.7,1406.16Q1291.53,1401.46 1286.7,1396.76Z"/><path d="M1286.7,1415.14L1296.1,1415.14L1296.1,1424.54L1286.7,1424.54Q1291.53,1419.84 1286.7,1415.14Z"/><path d="M1284.2,1433.52L1293.6,1433.52L1293.6,1442.92L1284.2,1442.92Q1289.03,1438.22 1284.2,1433.52Z"/><path d="M1283.7,1451.9L1293.1,1451.9L1293.1,1461.3L1283.7,1461.3Q1288.53,1456.6 1283.7,1451.9Z"/><path d="M1276.7,1470.28L1286.1,1470.28L1286.1,1479.68L1276.7,1479.68Q1281.53,1474.98 1276.7,1470.28Z"/><path d="M1273.7,1488.66L1283.1,1488.66L1283.1,1498.06L1273.7,1498.06Q1278.53,1493.36 1273.7,1488.66Z"/><path d="M1272.7,1507.04L1282.1,1507.04L1282.1,1516.44L1272.7,1516.44Q1277.53,1511.74 1272.7,1507.04Z"/><path d="M1276.2,1525.42L1285.6,1525.42L1285.6,1534.82L1276.2,1534.82Q1281.03,1530.12 1276.2,1525.42Z"/><path d="M1276.2,1543.8L1285.6,1543.8L1285.6,1553.2L1276.2,1553.2Q1281.03,1548.5 1276.2,1543.8Z"/><path d="M1272.7,1562.18L1282.1,1562.18L1282.1,1571.58L1272.7,1571.58Q1277.53,1566.88 1272.7,1562.18Z"/><path d="M1266.2,1580.56L1275.6,1580.56L1275.6,1589.96L1266.2,1589.96Q1271.03,1585.26 1266.2,1580.56Z"/><path d="M1266.2,1598.94L1275.6,1598.94L1275.6,1608.34L1266.2,1608.34Q1271.03,1603.64 1266.2,1598.94Z"/></g>
<g stroke="#6b6b6b" stroke-width="2" fill="none">
<path d="M526.25,1936.2H1072.75"/>
<path d="M536.25,1936.2V2669"/>
<path d="M536.25,1927.2V1936.2"/>
<path d="M643.55,1927.2V1936.2"/>
<path d="M750.85,1927.2V1936.2"/>
<path d="M858.15,1927.2V1936.2"/>
<path d="M965.45,1927.2V1936.2"/>
<path d="M1072.75,1927.2V1936.2"/>
<path d="M527.25,2049.3H536.25"/>
<path d="M527.25,2162H536.25"/>
<path d="M527.25,2274.7H536.25"/>
<path d="M527.25,2387.4H536.25"/>
<path d="M527.25,2500.1H536.25"/>
<path d="M527.25,2612.8H536.25"/>
</g>
<g font-family="Liberation Sans, sans-serif" font-size="26" fill="#000" text-anchor="middle">
<text x="538" y="1912.5">0</text>
<text x="646.6" y="1912.5">5</text>
<text x="752.5" y="1912.5">10</text>
<text x="855.2" y="1912.5">15</text>
<text x="967" y="1912.5">20</text>
<text x="1065.2" y="1912.5">25</text>
</g>
<g font-family="Liberation Sans, sans-serif" font-size="26" fill="#000" text-anchor="end">
<text x="515" y="1943.83">0</text>
<text x="515" y="2056.53">1</text>
<text x="515" y="2169.23">2</text>
<text x="515" y="2281.93">3</text>
<text x="515" y="2394.63">4</text>
<text x="515" y="2507.33">5</text>
<text x="515" y="2620.03">6</text>
</g>
<path d="M542.5,2148.5L1027.5,2148.5" stroke="#707070" stroke-width="3.4" stroke-dasharray="20.6 11.6" fill="none"/>
<path d="M541.5,1936.6 C542,1945.99 544.42,1974.17 544.5,1992.95 C544.58,2011.73 540.08,2030.52 542,2049.3 C543.92,2068.08 545.17,2094.38 556,2105.65 C566.83,2116.92 588.5,2113.16 607,2116.92 C625.5,2120.68 649.5,2124.43 667,2128.19 C684.5,2131.95 689.1,2135.77 712,2139.46 C735.33,2143.22 797.17,2146.97 807,2150.73 C816.83,2154.49 770.17,2158.24 771,2162 C771.83,2165.76 798.33,2169.51 812,2173.27 C825.67,2177.03 837,2170.55 853,2184.54 C872.33,2201.44 908.58,2240.89 928,2274.7 C947.42,2308.51 962.33,2349.83 969.5,2387.4 C976.67,2424.97 965.83,2453.14 971,2500.1 C976.17,2547.06 995.58,2640.97 1000.5,2669.15" fill="none" stroke="#000" stroke-width="2.8" stroke-linecap="round" stroke-linejoin="round" stroke-dasharray="3.6 5.6"/>
<g fill="#000" stroke="#000" stroke-width="1.0" stroke-linejoin="round"><path d="M535.9,1931.5L546.1,1936.6L535.9,1941.7Z"/><path d="M538.9,1987.85L549.1,1992.95L538.9,1998.05Z"/><path d="M536.4,2044.2L546.6,2049.3L536.4,2054.4Z"/><path d="M550.4,2100.55L560.6,2105.65L550.4,2110.75Z"/><path d="M601.4,2111.82L611.6,2116.92L601.4,2122.02Z"/><path d="M661.4,2123.09L671.6,2128.19L661.4,2133.29Z"/><path d="M706.4,2134.36L716.6,2139.46L706.4,2144.56Z"/><path d="M801.4,2145.63L811.6,2150.73L801.4,2155.83Z"/><path d="M765.4,2156.9L775.6,2162L765.4,2167.1Z"/><path d="M806.4,2168.17L816.6,2173.27L806.4,2178.37Z"/><path d="M847.4,2179.44L857.6,2184.54L847.4,2189.64Z"/><path d="M922.4,2269.6L932.6,2274.7L922.4,2279.8Z"/><path d="M963.9,2382.3L974.1,2387.4L963.9,2392.5Z"/><path d="M965.4,2495L975.6,2500.1L965.4,2505.2Z"/><path d="M994.9,2664.05L1005.1,2669.15L994.9,2674.25Z"/></g>
<path d="M703.5,1936.6 C703.5,1945.99 703.5,1974.17 703.5,1992.95 C703.5,2011.73 700.92,2030.52 703.5,2049.3 C706.08,2068.08 713.5,2094.38 719,2105.65 C723.56,2115 733.25,2113.16 736.5,2116.92 C739.75,2120.68 743.42,2125.27 738.5,2128.19 C732.17,2131.95 706.42,2135.7 698.5,2139.46 C692.38,2142.36 692.83,2146.97 691,2150.73 C689.17,2154.49 687.67,2158.24 687.5,2162 C687.33,2165.76 690,2169.51 690,2173.27 C690,2177.03 687.64,2178.77 687.5,2184.54 C687.08,2201.44 687.08,2240.89 687.5,2274.7 C687.92,2308.51 689.75,2349.83 690,2387.4 C690.25,2424.97 687.92,2453.14 689,2500.1 C690.08,2547.06 695.25,2640.97 696.5,2669.15" fill="none" stroke="#000" stroke-width="2.8" stroke-linecap="round" stroke-linejoin="round" stroke-dasharray="5.6 10.6"/>
<g fill="#000" stroke="#000" stroke-width="1.0" stroke-linejoin="round"><path d="M697.9,1931.5L708.1,1936.6L697.9,1941.7Z"/><path d="M697.9,1987.85L708.1,1992.95L697.9,1998.05Z"/><path d="M697.9,2044.2L708.1,2049.3L697.9,2054.4Z"/><path d="M713.4,2100.55L723.6,2105.65L713.4,2110.75Z"/><path d="M730.9,2111.82L741.1,2116.92L730.9,2122.02Z"/><path d="M732.9,2123.09L743.1,2128.19L732.9,2133.29Z"/><path d="M692.9,2134.36L703.1,2139.46L692.9,2144.56Z"/><path d="M685.4,2145.63L695.6,2150.73L685.4,2155.83Z"/><path d="M681.9,2156.9L692.1,2162L681.9,2167.1Z"/><path d="M684.4,2168.17L694.6,2173.27L684.4,2178.37Z"/><path d="M681.9,2179.44L692.1,2184.54L681.9,2189.64Z"/><path d="M681.9,2269.6L692.1,2274.7L681.9,2279.8Z"/><path d="M684.4,2382.3L694.6,2387.4L684.4,2392.5Z"/><path d="M683.4,2495L693.6,2500.1L683.4,2505.2Z"/><path d="M690.9,2664.05L701.1,2669.15L690.9,2674.25Z"/></g>
<path d="M726,1936.6 C726.5,1945.99 728.33,1974.17 729,1992.95 C729.67,2011.73 710.5,2030.52 730,2049.3 C749.5,2068.08 804.33,2094.38 846,2105.65 C887.67,2116.92 965.42,2113.16 980,2116.92 C994.58,2120.68 957.39,2126.91 933.5,2128.19 C863.25,2131.95 623.08,2135.7 558.5,2139.46 C550.1,2139.95 549.08,2146.97 546,2150.73 C542.92,2154.49 541.83,2158.24 540,2162 C538.17,2165.76 535.83,2169.51 535,2173.27 C534.17,2177.03 534.94,2178.91 535,2184.54 C535.17,2201.44 535.83,2240.89 536,2274.7 C536.17,2308.51 536,2349.83 536,2387.4 C536,2424.97 536,2453.14 536,2500.1 C536,2547.06 536,2640.97 536,2669.15" fill="none" stroke="#000" stroke-width="2.8" stroke-linecap="round" stroke-linejoin="round" stroke-dasharray="14 10.2 0.01 10.2"/>
<g fill="#000" stroke="#000" stroke-width="1.0" stroke-linejoin="round"><circle cx="726" cy="1936.6" r="4.75"/><circle cx="729" cy="1992.95" r="4.75"/><circle cx="730" cy="2049.3" r="4.75"/><circle cx="846" cy="2105.65" r="4.75"/><circle cx="980" cy="2116.92" r="4.75"/><circle cx="933.5" cy="2128.19" r="4.75"/><circle cx="558.5" cy="2139.46" r="4.75"/><circle cx="546" cy="2150.73" r="4.75"/><circle cx="540" cy="2162" r="4.75"/><circle cx="535" cy="2173.27" r="4.75"/><circle cx="535" cy="2184.54" r="4.75"/><circle cx="536" cy="2274.7" r="4.75"/><circle cx="536" cy="2387.4" r="4.75"/><circle cx="536" cy="2500.1" r="4.75"/><circle cx="536" cy="2669.15" r="4.75"/></g>
<path d="M826.5,1936.6 C826.5,1945.99 826.5,1974.17 826.5,1992.95 C826.5,2011.73 826.5,2030.52 826.5,2049.3 C826.5,2068.08 824.42,2094.38 826.5,2105.65 C828.03,2113.93 834.92,2113.16 839,2116.92 C843.08,2120.68 849.42,2124.43 851,2128.19 C852.58,2131.95 849.67,2135.7 848.5,2139.46 C847.33,2143.22 846.5,2146.97 844,2150.73 C841.5,2154.49 836.42,2158.24 833.5,2162 C830.58,2165.76 829.83,2169.51 826.5,2173.27 C823.17,2177.03 819.4,2178.28 813.5,2184.54 C797.58,2201.44 752.67,2240.89 731,2274.7 C709.33,2308.51 694.08,2349.83 683.5,2387.4 C672.92,2424.97 670.83,2453.14 667.5,2500.1 C664.17,2547.06 664.17,2640.97 663.5,2669.15" fill="none" stroke="#000" stroke-width="2.8" stroke-linecap="round" stroke-linejoin="round"/>
<g fill="#000" stroke="#000" stroke-width="1.0" stroke-linejoin="round"><rect x="821.75" y="1931.85" width="9.5" height="9.5" rx="0.8"/><rect x="821.75" y="1988.2" width="9.5" height="9.5" rx="0.8"/><rect x="821.75" y="2044.55" width="9.5" height="9.5" rx="0.8"/><rect x="821.75" y="2100.9" width="9.5" height="9.5" rx="0.8"/><rect x="834.25" y="2112.17" width="9.5" height="9.5" rx="0.8"/><rect x="846.25" y="2123.44" width="9.5" height="9.5" rx="0.8"/><rect x="843.75" y="2134.71" width="9.5" height="9.5" rx="0.8"/><rect x="839.25" y="2145.98" width="9.5" height="9.5" rx="0.8"/><rect x="828.75" y="2157.25" width="9.5" height="9.5" rx="0.8"/><rect x="821.75" y="2168.52" width="9.5" height="9.5" rx="0.8"/><rect x="808.75" y="2179.79" width="9.5" height="9.5" rx="0.8"/><rect x="726.25" y="2269.95" width="9.5" height="9.5" rx="0.8"/><rect x="678.75" y="2382.65" width="9.5" height="9.5" rx="0.8"/><rect x="662.75" y="2495.35" width="9.5" height="9.5" rx="0.8"/><rect x="658.75" y="2664.4" width="9.5" height="9.5" rx="0.8"/></g>
<path d="M381.1,655H457.4" fill="none" stroke="#000" stroke-width="2.8" stroke-linecap="round"/>
<g fill="#000" stroke="#000" stroke-width="1.0" stroke-linejoin="round"><rect x="413.9" y="650.1" width="9.8" height="9.8" rx="0.8"/></g>
<text x="465.7" y="663.49" font-family="Liberation Sans, sans-serif" font-size="27.5" font-weight="normal" text-anchor="start">T°C</text>
<path d="M381.1,710.8H457.4" fill="none" stroke="#000" stroke-width="2.8" stroke-linecap="round" stroke-dasharray="3.6 5.6"/>
<g fill="#000" stroke="#000" stroke-width="1.0" stroke-linejoin="round"><path d="M418.8,706.05L423.55,710.8L418.8,715.55L414.05,710.8Z"/></g>
<text x="465.7" y="719.29" font-family="Liberation Sans, sans-serif" font-size="27.5" font-weight="normal" text-anchor="start">S‰</text>
<path d="M381.1,766.6H457.4" fill="none" stroke="#000" stroke-width="2.8" stroke-linecap="round" stroke-dasharray="5.6 10.6"/>
<g fill="#000" stroke="#000" stroke-width="1.0" stroke-linejoin="round"><path d="M413.8,770.35L418.8,762.1L423.8,770.35Z"/></g>
<text x="465.7" y="775.09" font-family="Liberation Sans, sans-serif" font-size="27.5" font-weight="normal" text-anchor="start">pH</text>
<path d="M381.1,822.4H457.4" fill="none" stroke="#000" stroke-width="2.8" stroke-linecap="round" stroke-dasharray="14 10.2 0.01 10.2"/>
<g fill="#000" stroke="#000" stroke-width="1.0" stroke-linejoin="round"><circle cx="418.8" cy="822.4" r="4.75"/></g>
<text x="465.7" y="830.89" font-family="Liberation Sans, sans-serif" font-size="27.5" font-weight="normal" text-anchor="start">O<tspan dy="4.12">2</tspan><tspan dy="-4.12" dx="-1.5"> mg/l</tspan></text>
<path d="M389.5,875.7H411M423.2,875.7H443.2" stroke="#707070" stroke-width="3.6" fill="none"/>
<text x="466.9" y="867.6" font-family="Liberation Sans, sans-serif" font-size="26" font-weight="normal" text-anchor="start">redox</text>
<text x="466.9" y="896.5" font-family="Liberation Sans, sans-serif" font-size="26" font-weight="normal" text-anchor="start">border</text>
<path d="M1071.6,539.6H1149.1" fill="none" stroke="#000" stroke-width="2.8" stroke-linecap="round"/>
<g fill="#000" stroke="#000" stroke-width="1.0" stroke-linejoin="round"><rect x="1105" y="534.8" width="9.6" height="9.6" rx="0.8"/></g>
<text x="1157.2" y="548.98" font-family="Liberation Sans, sans-serif" font-size="27.2" font-weight="normal" text-anchor="start">T°C</text>
<path d="M1071.6,596H1149.1" fill="none" stroke="#000" stroke-width="2.8" stroke-linecap="round" stroke-dasharray="3.6 5.6"/>
<g fill="#000" stroke="#000" stroke-width="1.0" stroke-linejoin="round"><path d="M1109.8,591.35L1114.45,596L1109.8,600.65L1105.15,596Z"/></g>
<text x="1157.2" y="605.38" font-family="Liberation Sans, sans-serif" font-size="27.2" font-weight="normal" text-anchor="start">S‰</text>
<path d="M1071.6,652.6H1149.1" fill="none" stroke="#000" stroke-width="2.8" stroke-linecap="round" stroke-dasharray="5.6 10.6"/>
<g fill="#000" stroke="#000" stroke-width="1.0" stroke-linejoin="round"><path d="M1104.55,656.54L1109.8,647.88L1115.05,656.54Z"/></g>
<text x="1157.2" y="661.98" font-family="Liberation Sans, sans-serif" font-size="27.2" font-weight="normal" text-anchor="start">pH</text>
<path d="M1071.6,708.8H1149.1" fill="none" stroke="#000" stroke-width="2.8" stroke-linecap="round" stroke-dasharray="14 10.2 0.01 10.2"/>
<g fill="#000" stroke="#000" stroke-width="1.0" stroke-linejoin="round"><circle cx="1109.8" cy="708.8" r="4.75"/></g>
<text x="1157.2" y="718.18" font-family="Liberation Sans, sans-serif" font-size="27.2" font-weight="normal" text-anchor="start">O<tspan dy="4.08">2</tspan><tspan dy="-4.08" dx="-1.5"> mg/l</tspan></text>
<path d="M1080.3,762.1H1101.9M1114.4,762.1H1134.7" stroke="#707070" stroke-width="3.6" fill="none"/>
<text x="1159.3" y="753.8" font-family="Liberation Sans, sans-serif" font-size="25.7" font-weight="normal" text-anchor="start">redox</text>
<text x="1159.3" y="782.4" font-family="Liberation Sans, sans-serif" font-size="25.7" font-weight="normal" text-anchor="start">border</text>
<path d="M306.9,1585H381.6" fill="none" stroke="#000" stroke-width="2.8" stroke-linecap="round"/>
<g fill="#000" stroke="#000" stroke-width="1.0" stroke-linejoin="round"><rect x="339.4" y="1580.5" width="9" height="9" rx="0.8"/></g>
<text x="390.1" y="1594.04" font-family="Liberation Sans, sans-serif" font-size="26.2" font-weight="normal" text-anchor="start">T°C</text>
<path d="M306.9,1639H381.6" fill="none" stroke="#000" stroke-width="2.8" stroke-linecap="round" stroke-dasharray="3.6 5.6"/>
<g fill="#000" stroke="#000" stroke-width="1.0" stroke-linejoin="round"><path d="M343.9,1634.5L348.4,1639L343.9,1643.5L339.4,1639Z"/></g>
<text x="390.1" y="1648.04" font-family="Liberation Sans, sans-serif" font-size="26.2" font-weight="normal" text-anchor="start">S‰</text>
<path d="M306.9,1694.2H381.6" fill="none" stroke="#000" stroke-width="2.8" stroke-linecap="round" stroke-dasharray="5.6 10.6"/>
<g fill="#000" stroke="#000" stroke-width="1.0" stroke-linejoin="round"><path d="M338.9,1697.95L343.9,1689.7L348.9,1697.95Z"/></g>
<text x="390.1" y="1703.24" font-family="Liberation Sans, sans-serif" font-size="26.2" font-weight="normal" text-anchor="start">pH</text>
<path d="M306.9,1748.3H381.6" fill="none" stroke="#000" stroke-width="2.8" stroke-linecap="round" stroke-dasharray="14 10.2 0.01 10.2"/>
<g fill="#000" stroke="#000" stroke-width="1.0" stroke-linejoin="round"><circle cx="343.9" cy="1748.3" r="4.65"/></g>
<text x="390.1" y="1757.34" font-family="Liberation Sans, sans-serif" font-size="26.2" font-weight="normal" text-anchor="start">O<tspan dy="3.93">2</tspan><tspan dy="-3.93" dx="-1.5"> mg/l</tspan></text>
<path d="M315.4,1800.4H336.2M347.6,1800.4H367.7" stroke="#707070" stroke-width="3.6" fill="none"/>
<text x="390.9" y="1792.3" font-family="Liberation Sans, sans-serif" font-size="25.2" font-weight="normal" text-anchor="start">redox</text>
<text x="390.9" y="1820.5" font-family="Liberation Sans, sans-serif" font-size="25.2" font-weight="normal" text-anchor="start">border</text>
<path d="M899.4,1158.1H973.7" fill="none" stroke="#000" stroke-width="2.8" stroke-linecap="round" stroke-dasharray="3.6 5.6"/>
<g fill="#000" stroke="#000" stroke-width="1.0" stroke-linejoin="round"><path d="M937.2,1153.45L941.85,1158.1L937.2,1162.75L932.55,1158.1Z"/></g>
<text x="983.3" y="1165.14" font-family="Liberation Sans, sans-serif" font-size="26.2" font-weight="normal" text-anchor="start">S‰</text>
<path d="M899.4,1203.3H973.7" fill="none" stroke="#000" stroke-width="2.8" stroke-linecap="round"/>
<g fill="#000" stroke="#000" stroke-width="1.0" stroke-linejoin="round"><path d="M931.9,1198.6L941.3,1198.6L941.3,1208L931.9,1208Q936.73,1203.3 931.9,1198.6Z"/></g>
<text x="983.3" y="1210.34" font-family="Liberation Sans, sans-serif" font-size="26.2" font-weight="normal" text-anchor="start">T°C</text>
<path d="M899.4,1250H973.7" fill="none" stroke="#000" stroke-width="2.8" stroke-linecap="round" stroke-dasharray="5.6 10.6"/>
<g fill="#000" stroke="#000" stroke-width="1.0" stroke-linejoin="round"><path d="M931.95,1253.94L937.2,1245.28L942.45,1253.94Z"/></g>
<text x="983.3" y="1257.04" font-family="Liberation Sans, sans-serif" font-size="26.2" font-weight="normal" text-anchor="start">pH</text>
<path d="M899.4,1298.8H973.7" fill="none" stroke="#000" stroke-width="2.8" stroke-linecap="round" stroke-dasharray="14 10.2 0.01 10.2"/>
<g fill="#000" stroke="#000" stroke-width="1.0" stroke-linejoin="round"><circle cx="937.2" cy="1298.8" r="4.75"/></g>
<text x="983.3" y="1305.84" font-family="Liberation Sans, sans-serif" font-size="26.2" font-weight="normal" text-anchor="start">O<tspan dy="3.93">2</tspan><tspan dy="-3.93" dx="-1.5"></tspan></text>
<path d="M904.1,1350.4H924.8M936.2,1350.4H955.9" stroke="#707070" stroke-width="3.6" fill="none"/>
<text x="979.5" y="1342.3" font-family="Liberation Sans, sans-serif" font-size="24.8" font-weight="normal" text-anchor="start">redox</text>
<text x="979.5" y="1370.1" font-family="Liberation Sans, sans-serif" font-size="24.8" font-weight="normal" text-anchor="start">border</text>
<path d="M760.1,2458.8H830.6" fill="none" stroke="#000" stroke-width="2.8" stroke-linecap="round"/>
<g fill="#000" stroke="#000" stroke-width="1.0" stroke-linejoin="round"><rect x="790.9" y="2454.5" width="8.6" height="8.6" rx="0.8"/></g>
<text x="838.6" y="2467.6" font-family="Liberation Sans, sans-serif" font-size="25.5" font-weight="normal" text-anchor="start">T°C</text>
<path d="M760.1,2510.4H830.6" fill="none" stroke="#000" stroke-width="2.8" stroke-linecap="round" stroke-dasharray="3.6 5.6"/>
<g fill="#000" stroke="#000" stroke-width="1.0" stroke-linejoin="round"><path d="M795.2,2505.9L799.7,2510.4L795.2,2514.9L790.7,2510.4Z"/></g>
<text x="838.6" y="2519.2" font-family="Liberation Sans, sans-serif" font-size="25.5" font-weight="normal" text-anchor="start">S‰</text>
<path d="M760.1,2562.7H830.6" fill="none" stroke="#000" stroke-width="2.8" stroke-linecap="round" stroke-dasharray="5.6 10.6"/>
<g fill="#000" stroke="#000" stroke-width="1.0" stroke-linejoin="round"><path d="M790.2,2566.45L795.2,2558.2L800.2,2566.45Z"/></g>
<text x="838.6" y="2571.5" font-family="Liberation Sans, sans-serif" font-size="25.5" font-weight="normal" text-anchor="start">pH</text>
<path d="M760.1,2614.3H830.6" fill="none" stroke="#000" stroke-width="2.8" stroke-linecap="round" stroke-dasharray="14 10.2 0.01 10.2"/>
<g fill="#000" stroke="#000" stroke-width="1.0" stroke-linejoin="round"><circle cx="795.2" cy="2614.3" r="4.65"/></g>
<text x="838.6" y="2623.1" font-family="Liberation Sans, sans-serif" font-size="25.5" font-weight="normal" text-anchor="start">O<tspan dy="3.82">2</tspan><tspan dy="-3.82" dx="-1.5"> mg/l</tspan></text>
<path d="M768.1,2663.4H787.5M798.9,2663.4H817.7" stroke="#707070" stroke-width="3.6" fill="none"/>
<text x="840.2" y="2655.7" font-family="Liberation Sans, sans-serif" font-size="23.6" font-weight="normal" text-anchor="start">redox</text>
<text x="840.2" y="2681.8" font-family="Liberation Sans, sans-serif" font-size="23.6" font-weight="normal" text-anchor="start">border</text>
<text x="7.8" y="36.1" font-family="Liberation Sans, sans-serif" font-size="43.5" font-weight="bold" text-anchor="start">A</text>
<text x="97" y="23.1" font-family="Liberation Serif, serif" font-size="27.6" font-weight="normal" text-anchor="start" textLength="378" lengthAdjust="spacing">Lagoon on the Cape Zeleny</text>
<text x="497" y="23.1" font-family="Liberation Serif, serif" font-size="25.5" font-weight="normal" text-anchor="start" textLength="90" lengthAdjust="spacingAndGlyphs">25.08.14</text>
<text x="747.8" y="36.3" font-family="Liberation Sans, sans-serif" font-size="43.5" font-weight="bold" text-anchor="start">B</text>
<text x="898.5" y="36.6" font-family="Liberation Serif, serif" font-size="35" font-weight="normal" text-anchor="start" textLength="323" lengthAdjust="spacing">Lake Kislo-Sladkoe</text>
<text x="1240.4" y="36.6" font-family="Liberation Serif, serif" font-size="24.5" font-weight="normal" text-anchor="start" textLength="90" lengthAdjust="spacingAndGlyphs">28.08.14</text>
<text x="8.2" y="1046" font-family="Liberation Sans, sans-serif" font-size="43.5" font-weight="bold" text-anchor="start">C</text>
<text x="174.3" y="1024.6" font-family="Liberation Serif, serif" font-size="34" font-weight="normal" text-anchor="start" textLength="193" lengthAdjust="spacing">Elovoe lake</text>
<text x="396.8" y="1023.5" font-family="Liberation Serif, serif" font-size="23.5" font-weight="normal" text-anchor="start" textLength="74" lengthAdjust="spacingAndGlyphs">4.09.14</text>
<text x="747.8" y="1045.6" font-family="Liberation Sans, sans-serif" font-size="43.5" font-weight="bold" text-anchor="start">D</text>
<text x="860.6" y="1024.6" font-family="Liberation Serif, serif" font-size="31.5" font-weight="normal" text-anchor="start" textLength="330" lengthAdjust="spacing">Lake N. Ershovskoe</text>
<text x="1219" y="1024.6" font-family="Liberation Serif, serif" font-size="24.5" font-weight="normal" text-anchor="start" textLength="76" lengthAdjust="spacingAndGlyphs">2.09.14</text>
<text x="486.9" y="1878.5" font-family="Liberation Sans, sans-serif" font-size="43.5" font-weight="bold" text-anchor="start">E</text>
<text x="580.5" y="1876.6" font-family="Liberation Serif, serif" font-size="33.5" font-weight="normal" text-anchor="start" textLength="308" lengthAdjust="spacing">Lake Trekhtzvetnoe</text>
<text x="908" y="1876.6" font-family="Liberation Serif, serif" font-size="24.5" font-weight="normal" text-anchor="start" textLength="82" lengthAdjust="spacingAndGlyphs">29.08.14</text>
<text transform="translate(25,371) rotate(-90)" font-family="Liberation Serif, serif" font-size="33" text-anchor="middle" textLength="115.3" lengthAdjust="spacingAndGlyphs">Depth, m</text>
<text transform="translate(753.8,313.5) rotate(-90)" font-family="Liberation Serif, serif" font-size="33" text-anchor="middle" textLength="117" lengthAdjust="spacingAndGlyphs">Depth, m</text>
<text transform="translate(35.7,1386.8) rotate(-90)" font-family="Liberation Serif, serif" font-size="33" text-anchor="middle" textLength="112.9" lengthAdjust="spacingAndGlyphs">Depth, m</text>
<text transform="translate(776,1340.1) rotate(-90)" font-family="Liberation Serif, serif" font-size="33" text-anchor="middle" textLength="112.8" lengthAdjust="spacingAndGlyphs">Depth, m</text>
<text transform="translate(495.1,2320.7) rotate(-90)" font-family="Liberation Serif, serif" font-size="31.5" text-anchor="middle" textLength="107.7" lengthAdjust="spacingAndGlyphs">Depth, m</text>
</svg>
</body></html>
